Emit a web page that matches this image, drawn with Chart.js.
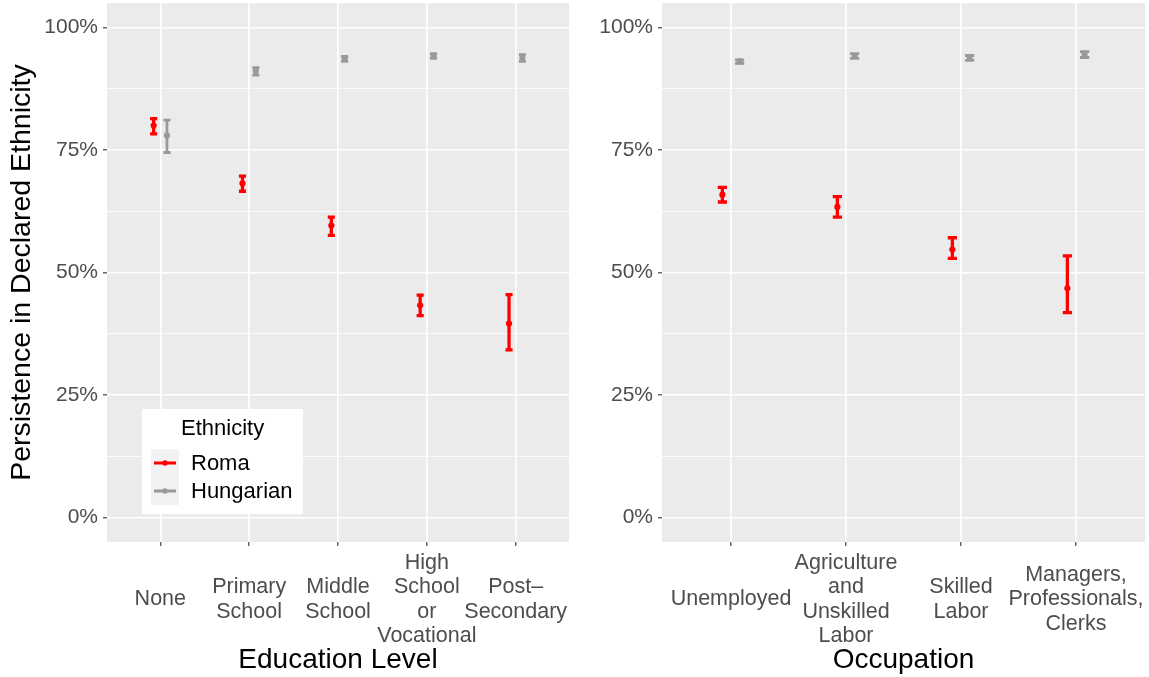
<!DOCTYPE html>
<html>
<head>
<meta charset="utf-8">
<title>Persistence in Declared Ethnicity</title>
<script src="https://cdn.jsdelivr.net/npm/chart.js@4/dist/chart.umd.min.js"></script>
<style>
  html, body { margin: 0; padding: 0; background: #ffffff; }
  #wrap { position: relative; width: 1149px; height: 677px; overflow: hidden; }
  canvas { position: absolute; top: 0; }
  #eduChart { left: 0; }
  #occChart { left: 575px; }
</style>
</head>
<body>
<div id="wrap">
  <canvas id="eduChart" width="575" height="677" style="width:575px;height:677px"></canvas>
  <canvas id="occChart" width="574" height="677" style="width:574px;height:677px"></canvas>
</div>
<script>
// ---- data -------------------------------------------------------------
const seriesNames = ['Roma', 'Hungarian'];

// Education panel
const eduLabels = [
  ['None'],
  ['Primary', 'School'],
  ['Middle', 'School'],
  ['High', 'School', 'or', 'Vocational'],
  ['Post\u2013', 'Secondary']
];
const eduRoma      = [80.0, 68.2, 59.6, 43.3, 39.6];
const eduRomaLow   = [78.3, 66.6, 57.6, 41.2, 34.2];
const eduRomaHigh  = [81.4, 69.7, 61.3, 45.4, 45.5];
const eduHung      = [78.0, 91.1, 93.7, 94.2, 93.8];
const eduHungLow   = [74.5, 90.3, 93.1, 93.7, 93.1];
const eduHungHigh  = [81.1, 91.8, 94.1, 94.7, 94.5];

// Occupation panel
const occLabels = [
  ['Unemployed'],
  ['Agriculture', 'and', 'Unskilled', 'Labor'],
  ['Skilled', 'Labor'],
  ['Managers,', 'Professionals,', 'Clerks']
];
const occRoma      = [65.9, 63.4, 54.7, 46.8];
const occRomaLow   = [64.4, 61.3, 52.9, 41.8];
const occRomaHigh  = [67.4, 65.5, 57.1, 53.4];
const occHung      = [93.1, 94.2, 93.8, 94.5];
const occHungLow   = [92.7, 93.7, 93.3, 93.9];
const occHungHigh  = [93.4, 94.7, 94.3, 95.1];

// y axis
const yTickValues  = [0, 25, 50, 75, 100];
const yTickLabels  = ['0%', '25%', '50%', '75%', '100%'];
const yMinorValues = [12.5, 37.5, 62.5, 87.5];

// ---- styling ----------------------------------------------------------
const FONT = "'Liberation Sans', Arimo, Arial, Helvetica, sans-serif";
const COLORS = { Roma: '#FF0000', Hungarian: '#999999' };
const BAR_WIDTH = { Roma: 3.3, Hungarian: 2.8 };
const DODGE = 0.075;      // horizontal offset of each group, in category units
const CAP_HALF = 0.04;    // half width of whisker caps, in category units

function toPoints(values, shift) {
  return values.map((v, i) => ({ x: i + shift, y: v }));
}

function makeDatasets(roma, romaLo, romaHi, hung, hungLo, hungHi) {
  const mk = (name, vals, lo, hi, shift) => ({
    label: name,
    data: toPoints(vals, shift),
    errLow: lo,
    errHigh: hi,
    errWidth: BAR_WIDTH[name],
    showLine: false,
    pointRadius: 3.1,
    pointHoverRadius: 3.1,
    pointBorderWidth: 0,
    backgroundColor: COLORS[name],
    borderColor: COLORS[name]
  });
  return [
    mk(seriesNames[0], roma, romaLo, romaHi, -DODGE),
    mk(seriesNames[1], hung, hungLo, hungHi, DODGE)
  ];
}

// grey panel behind the grid
const panelBackground = {
  id: 'panelBackground',
  beforeDraw(chart) {
    const { ctx, chartArea: a } = chart;
    ctx.save();
    ctx.fillStyle = '#EBEBEB';
    ctx.fillRect(a.left, a.top, a.right - a.left, a.bottom - a.top);
    ctx.restore();
  }
};

// vertical interval bars with caps, placed with the chart's own scales
const errorBars = {
  id: 'errorBars',
  beforeDatasetsDraw(chart) {
    const { ctx, scales: { x, y } } = chart;
    chart.data.datasets.forEach((ds, di) => {
      if (!chart.isDatasetVisible(di)) return;
      ctx.save();
      ctx.strokeStyle = ds.borderColor;
      ctx.lineWidth = ds.errWidth;
      ctx.lineCap = 'butt';
      ds.data.forEach((p, i) => {
        const px = x.getPixelForValue(p.x);
        const cap = x.getPixelForValue(p.x + CAP_HALF) - px;
        const yl = y.getPixelForValue(ds.errLow[i]);
        const yh = y.getPixelForValue(ds.errHigh[i]);
        ctx.beginPath();
        ctx.moveTo(px, yl); ctx.lineTo(px, yh);
        ctx.moveTo(px - cap, yl); ctx.lineTo(px + cap, yl);
        ctx.moveTo(px - cap, yh); ctx.lineTo(px + cap, yh);
        ctx.stroke();
      });
      ctx.restore();
    });
  }
};

// legend box drawn inside the plotting panel
const insetLegend = {
  id: 'insetLegend',
  afterDatasetsDraw(chart, args, opts) {
    if (!opts || !opts.display) return;
    const { ctx } = chart;
    const b = opts.box;
    ctx.save();
    ctx.fillStyle = '#FFFFFF';
    ctx.fillRect(b.x, b.y, b.w, b.h);

    ctx.fillStyle = '#000000';
    ctx.font = `${opts.titleSize}px ${FONT}`;
    ctx.textAlign = 'left';
    ctx.textBaseline = 'middle';
    ctx.fillText(opts.title, opts.titleX, opts.titleY);

    const k = opts.key;
    ctx.fillStyle = '#F2F2F2';
    ctx.fillRect(k.x, k.y, k.w, k.size * chart.data.datasets.length);

    chart.data.datasets.forEach((ds, i) => {
      const cy = k.y + k.size * (i + 0.5);
      ctx.strokeStyle = ds.borderColor;
      ctx.lineWidth = 3;
      ctx.beginPath();
      ctx.moveTo(k.x + 3, cy);
      ctx.lineTo(k.x + k.w - 3, cy);
      ctx.stroke();
      ctx.fillStyle = ds.backgroundColor;
      ctx.beginPath();
      ctx.arc(k.x + k.w / 2, cy, 2.8, 0, Math.PI * 2);
      ctx.fill();
      ctx.fillStyle = '#000000';
      ctx.font = `${opts.labelSize}px ${FONT}`;
      ctx.fillText(ds.label, opts.labelX, cy + 1);
    });
    ctx.restore();
  }
};

function makeOptions(labels, xTitle, yTitle, yWidth, padRight, legendOpts) {
  return {
    responsive: false,
    maintainAspectRatio: false,
    animation: false,
    events: [],
    layout: { padding: { left: 0, right: padRight, top: 0, bottom: 0 } },
    plugins: {
      legend: { display: false },
      tooltip: { enabled: false },
      insetLegend: legendOpts
    },
    scales: {
      x: {
        type: 'linear',
        min: -0.6,
        max: labels.length - 0.4,
        afterBuildTicks(s) { s.ticks = labels.map((_, i) => ({ value: i })); },
        afterFit(s) { s.height = 135; s.paddingLeft = 0; s.paddingRight = 0; },
        ticks: {
          autoSkip: false,
          maxRotation: 0,
          minRotation: 0,
          crossAlign: 'center',
          padding: 17,
          color: '#4D4D4D',
          font: { family: FONT, size: 21.5, lineHeight: 1.13 },
          callback: (v, i) => labels[i]
        },
        grid: {
          color: '#FFFFFF',
          lineWidth: 1.6,
          tickColor: '#333333',
          tickWidth: 1.1,
          tickLength: 4
        },
        border: { display: false },
        title: {
          display: true,
          text: xTitle,
          color: '#000000',
          font: { family: FONT, size: 28 },
          padding: { top: 0, bottom: 0 }
        }
      },
      y: {
        type: 'linear',
        min: -5,
        max: 105,
        afterBuildTicks(s) {
          s.ticks = yTickValues.concat(yMinorValues).sort((a, b) => a - b).map(v => ({ value: v }));
        },
        afterFit(s) { s.width = yWidth; s.paddingTop = 0; s.paddingBottom = 0; },
        ticks: {
          autoSkip: false,
          padding: 5,
          color: '#4D4D4D',
          font: { family: FONT, size: 21 },
          callback: (v) => {
            const k = yTickValues.indexOf(v);
            return k < 0 ? '' : yTickLabels[k];
          }
        },
        grid: {
          color: '#FFFFFF',
          lineWidth: (c) => (yTickValues.includes(c.tick && c.tick.value) ? 1.6 : 0.8),
          tickColor: (c) => (yTickValues.includes(c.tick && c.tick.value) ? '#333333' : 'rgba(0,0,0,0)'),
          tickWidth: 1.1,
          tickLength: 4
        },
        border: { display: false },
        title: {
          display: !!yTitle,
          text: yTitle || '',
          color: '#000000',
          font: { family: FONT, size: 28.5 },
          padding: { top: 5, bottom: 0 }
        }
      }
    }
  };
}

new Chart(document.getElementById('eduChart'), {
  type: 'scatter',
  data: { datasets: makeDatasets(eduRoma, eduRomaLow, eduRomaHigh, eduHung, eduHungLow, eduHungHigh) },
  options: makeOptions(eduLabels, 'Education Level', 'Persistence in Declared Ethnicity', 107, 6, {
    display: true,
    title: 'Ethnicity',
    titleSize: 22,
    labelSize: 22,
    box: { x: 142, y: 409, w: 161, h: 105 },
    titleX: 181,
    titleY: 429,
    key: { x: 151, y: 449, w: 28, size: 28 },
    labelX: 191
  }),
  plugins: [panelBackground, errorBars, insetLegend]
});

new Chart(document.getElementById('occChart'), {
  type: 'scatter',
  data: { datasets: makeDatasets(occRoma, occRomaLow, occRomaHigh, occHung, occHungLow, occHungHigh) },
  options: makeOptions(occLabels, 'Occupation', null, 87, 4, { display: false }),
  plugins: [panelBackground, errorBars, insetLegend]
});
</script>
</body>
</html>
